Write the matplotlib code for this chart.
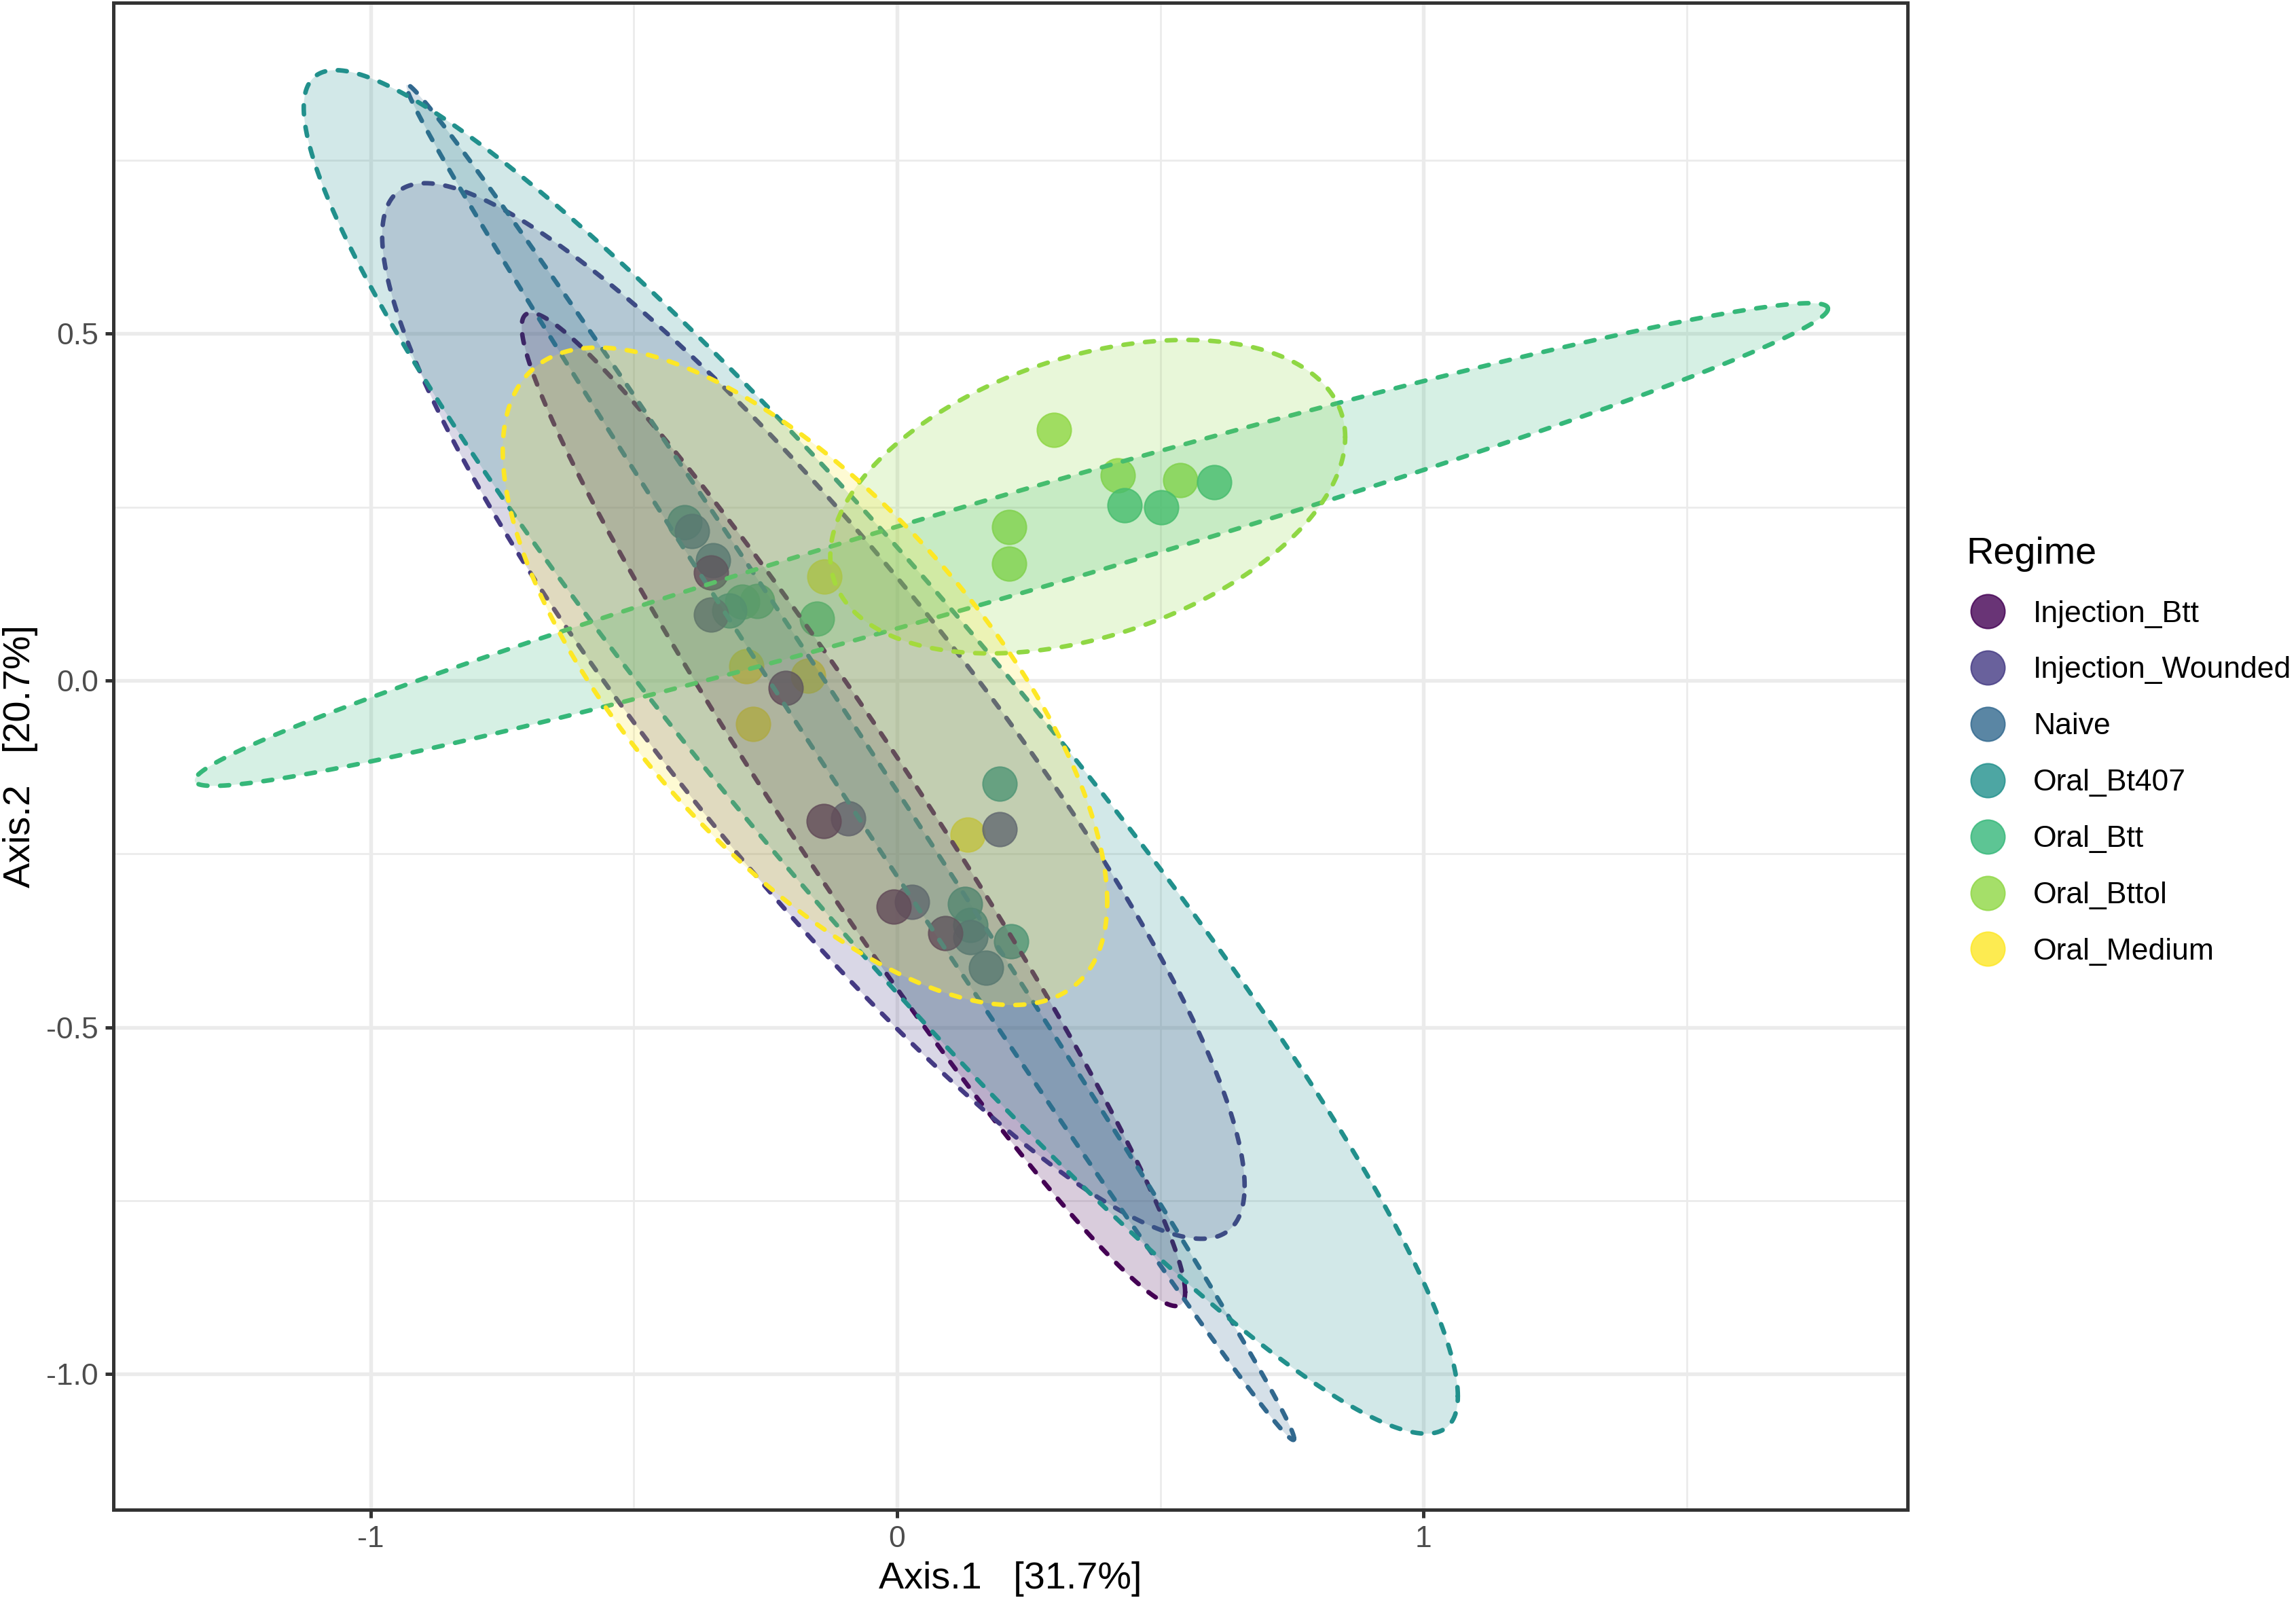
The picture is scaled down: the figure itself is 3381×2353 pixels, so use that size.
import numpy as np
import matplotlib.pyplot as plt
import matplotlib.colors as mcolors
from matplotlib.lines import Line2D

plt.rcParams['font.family'] = ['Liberation Sans', 'DejaVu Sans']

# groups and viridis colours
regimes = ['Injection_Btt', 'Injection_Wounded', 'Naive', 'Oral_Bt407',
           'Oral_Btt', 'Oral_Bttol', 'Oral_Medium']
colors = ['#440154', '#443A83', '#31688E', '#21908C', '#35B779', '#8FD744', '#FDE725']

# sample scores (Axis.1, Axis.2)
inj_btt_x = [-0.353, -0.211, -0.140, -0.007, 0.092]
inj_btt_y = [0.156, -0.011, -0.203, -0.326, -0.364]
inj_wnd_x = [-0.353, -0.093, 0.028, 0.195]
inj_wnd_y = [0.095, -0.199, -0.319, -0.214]
naive_x = [-0.390, -0.350, 0.139, 0.169]
naive_y = [0.215, 0.173, -0.370, -0.414]
bt407_x = [-0.404, -0.319, 0.195, 0.129, 0.139, 0.216]
bt407_y = [0.228, 0.101, -0.149, -0.322, -0.353, -0.376]
btt_x = [0.602, 0.432, 0.502, -0.152, -0.266, -0.294]
btt_y = [0.286, 0.253, 0.250, 0.089, 0.115, 0.114]
bttol_x = [0.298, 0.419, 0.538, 0.213, 0.213]
bttol_y = [0.361, 0.296, 0.289, 0.221, 0.168]
medium_x = [-0.138, -0.287, -0.169, -0.274, 0.134]
medium_y = [0.150, 0.021, 0.007, -0.063, -0.222]

# 95% ellipses per regime: centre, half extent in x / y, correlation
ell_cx = [-0.083, -0.159, -0.089, -0.031, 0.217, 0.362, -0.175]
ell_cy = [-0.186, -0.044, -0.118, -0.103, 0.196, 0.265, 0.006]
ell_sx = [0.630, 0.819, 0.843, 1.096, 1.551, 0.489, 0.574]
ell_sy = [0.716, 0.761, 0.977, 0.983, 0.348, 0.226, 0.474]
ell_r = [-0.972, -0.900, -0.998, -0.945, 0.977, 0.380, -0.686]

xticks = [-1, 0, 1]
yticks = [-1.0, -0.5, 0.0, 0.5]
xlab = 'Axis.1   [31.7%]'
ylab = 'Axis.2   [20.7%]'

pts_x = [inj_btt_x, inj_wnd_x, naive_x, bt407_x, btt_x, bttol_x, medium_x]
pts_y = [inj_btt_y, inj_wnd_y, naive_y, bt407_y, btt_y, bttol_y, medium_y]

fig = plt.figure(figsize=(3381 / 300, 2353 / 300), dpi=300)
ax = fig.add_axes([0.0495, 0.0551, 0.7813, 0.9431])

# points first, ellipses are layered over them
for i in reversed(range(len(regimes))):
    ax.scatter(pts_x[i], pts_y[i], s=145, color=colors[i], alpha=0.8,
               edgecolors=colors[i], linewidths=0.5, zorder=2)

t = np.linspace(0, 2 * np.pi, 400)
for i, c in enumerate(colors):
    ex = ell_cx[i] + ell_sx[i] * np.cos(t)
    ey = ell_cy[i] + ell_sy[i] * (ell_r[i] * np.cos(t) + np.sqrt(1 - ell_r[i] ** 2) * np.sin(t))
    ax.fill(ex, ey, facecolor=mcolors.to_rgba(c, 0.2), edgecolor=c,
            linewidth=1.6, linestyle=(0, (2.0, 2.8)), capstyle='round',
            zorder=3 + i)

ax.set_xlim(-1.488, 1.919)
ax.set_ylim(-1.196, 0.977)
ax.set_xticks(xticks)
ax.set_xticklabels(['-1', '0', '1'])
ax.set_yticks(yticks)
ax.set_yticklabels(['-1.0', '-0.5', '0.0', '0.5'])
ax.set_xticks([-0.5, 0.5, 1.5], minor=True)
ax.set_yticks([-0.75, -0.25, 0.25, 0.75], minor=True)

ax.set_axisbelow(True)
ax.grid(which='major', color='#EBEBEB', linewidth=1.3)
ax.grid(which='minor', color='#EBEBEB', linewidth=0.65)
ax.tick_params(which='major', length=2.8, width=1.2, color='#333333',
               labelsize=10.7, labelcolor='#4D4D4D', pad=2.6)
ax.tick_params(which='minor', length=0)
for sp in ax.spines.values():
    sp.set_color('#333333')
    sp.set_linewidth(1.2)

ax.set_xlabel(xlab, fontsize=13.4, color='black', labelpad=3)
ax.set_ylabel(ylab, fontsize=13.4, color='black', labelpad=3)

handles = [Line2D([], [], marker='o', linestyle='', markersize=12,
                  markerfacecolor=c, markeredgecolor=c, markeredgewidth=0.5,
                  alpha=0.8) for c in colors]
leg = ax.legend(handles, regimes, title='Regime', loc='upper left',
                bbox_to_anchor=(0.8565, 0.6644), bbox_transform=fig.transFigure,
                frameon=False, borderpad=0, borderaxespad=0,
                handlelength=1.4, handletextpad=0.81, labelspacing=0.94,
                fontsize=10.7, title_fontsize=13.4, alignment='left')

fig.savefig('out.png', dpi=300)
